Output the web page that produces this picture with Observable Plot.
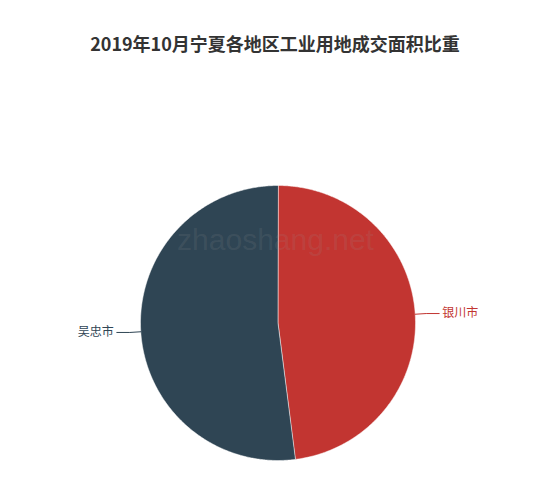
<!DOCTYPE html>
<html>
<head>
<meta charset="utf-8">
<script src="https://cdn.jsdelivr.net/npm/d3@7"></script>
<script src="https://cdn.jsdelivr.net/npm/@observablehq/plot@0.6"></script>
<style>
  body { margin: 0; background: #fff; width: 550px; }
  #title { height: 60px; box-sizing: border-box; padding-top: 30px; line-height: 20px;
           text-align: center; font: bold 18px "Noto Sans CJK SC", sans-serif; color: #333; }
</style>
</head>
<body>
<div id="title">2019年10月宁夏各地区工业用地成交面积比重</div>
<div id="chart"></div>
<script>
const regions = ["银川市", "吴忠市"];
const shares = [47.97, 52.03];
const colors = ["#c23531", "#2f4554"];
const watermark = "zhaoshang.net";

const W = 550, H = 430, CX = 277.5, CY = 262.5, R = 137.5;
const rad = Math.PI / 180;
const pt = (a, r = 1) => [r * Math.sin(a), -r * Math.cos(a)];

const arcs = d3.pie().sort(null).value(d => d)(shares);

const slices = arcs.map((a, i) => {
  const ring = [[0, 0]];
  const n = Math.max(2, Math.ceil((a.endAngle - a.startAngle) / (0.5 * rad)));
  for (let k = 0; k <= n; k++) ring.push(pt(a.startAngle + (a.endAngle - a.startAngle) * k / n));
  ring.push([0, 0]);
  return {type: "Feature", properties: {name: regions[i]}, geometry: {type: "Polygon", coordinates: [ring]}};
});

// the whole SVG area, in units of the pie radius
const x0 = -CX / R, x1 = (W - CX) / R, y0 = -CY / R, y1 = (H - CY) / R;
const domain = {type: "Polygon", coordinates: [[[x0, y0], [x1, y0], [x1, y1], [x0, y1], [x0, y0]]]};

const px = 1 / R;
const len1 = 11 * px, len2 = 13 * px;
const leaders = [];
const labels = [];
arcs.forEach((a, i) => {
  const mid = (a.startAngle + a.endAngle) / 2;
  const p0 = pt(mid, 1);
  const p1 = pt(mid, 1 + len1);
  const dir = Math.sin(mid) >= 0 ? 1 : -1;
  const p2 = [p1[0] + dir * len2, p1[1]];
  [p0, p1, p2].forEach(p => leaders.push({name: regions[i], x: p[0], y: p[1]}));
  labels.push({name: regions[i], x: p2[0] + dir * 3 * px, y: p2[1], anchor: dir > 0 ? "start" : "end"});
});

const chart = Plot.plot({
  width: W,
  height: H,
  margin: 0,
  projection: {type: "identity", domain},
  color: {domain: regions, range: colors},
  marks: [
    Plot.geo(slices, {fill: d => d.properties.name, stroke: "#fff", strokeWidth: 0.5}),
    Plot.line(leaders, {x: "x", y: "y", z: "name", stroke: "name", strokeWidth: 1}),
    Plot.text(labels.filter(d => d.anchor === "start"), {x: "x", y: "y", text: "name", fill: "name",
      textAnchor: "start", fontSize: 12, fontFamily: "Noto Sans CJK SC"}),
    Plot.text(labels.filter(d => d.anchor === "end"), {x: "x", y: "y", text: "name", fill: "name",
      textAnchor: "end", fontSize: 12, fontFamily: "Noto Sans CJK SC"}),
    Plot.text([watermark], {x: () => -0.018, y: () => -0.6, text: d => d, fill: "#999", fillOpacity: 0.15,
      fontSize: 30, fontFamily: "Liberation Sans"})
  ]
});
document.getElementById("chart").appendChild(chart);
</script>
</body>
</html>
